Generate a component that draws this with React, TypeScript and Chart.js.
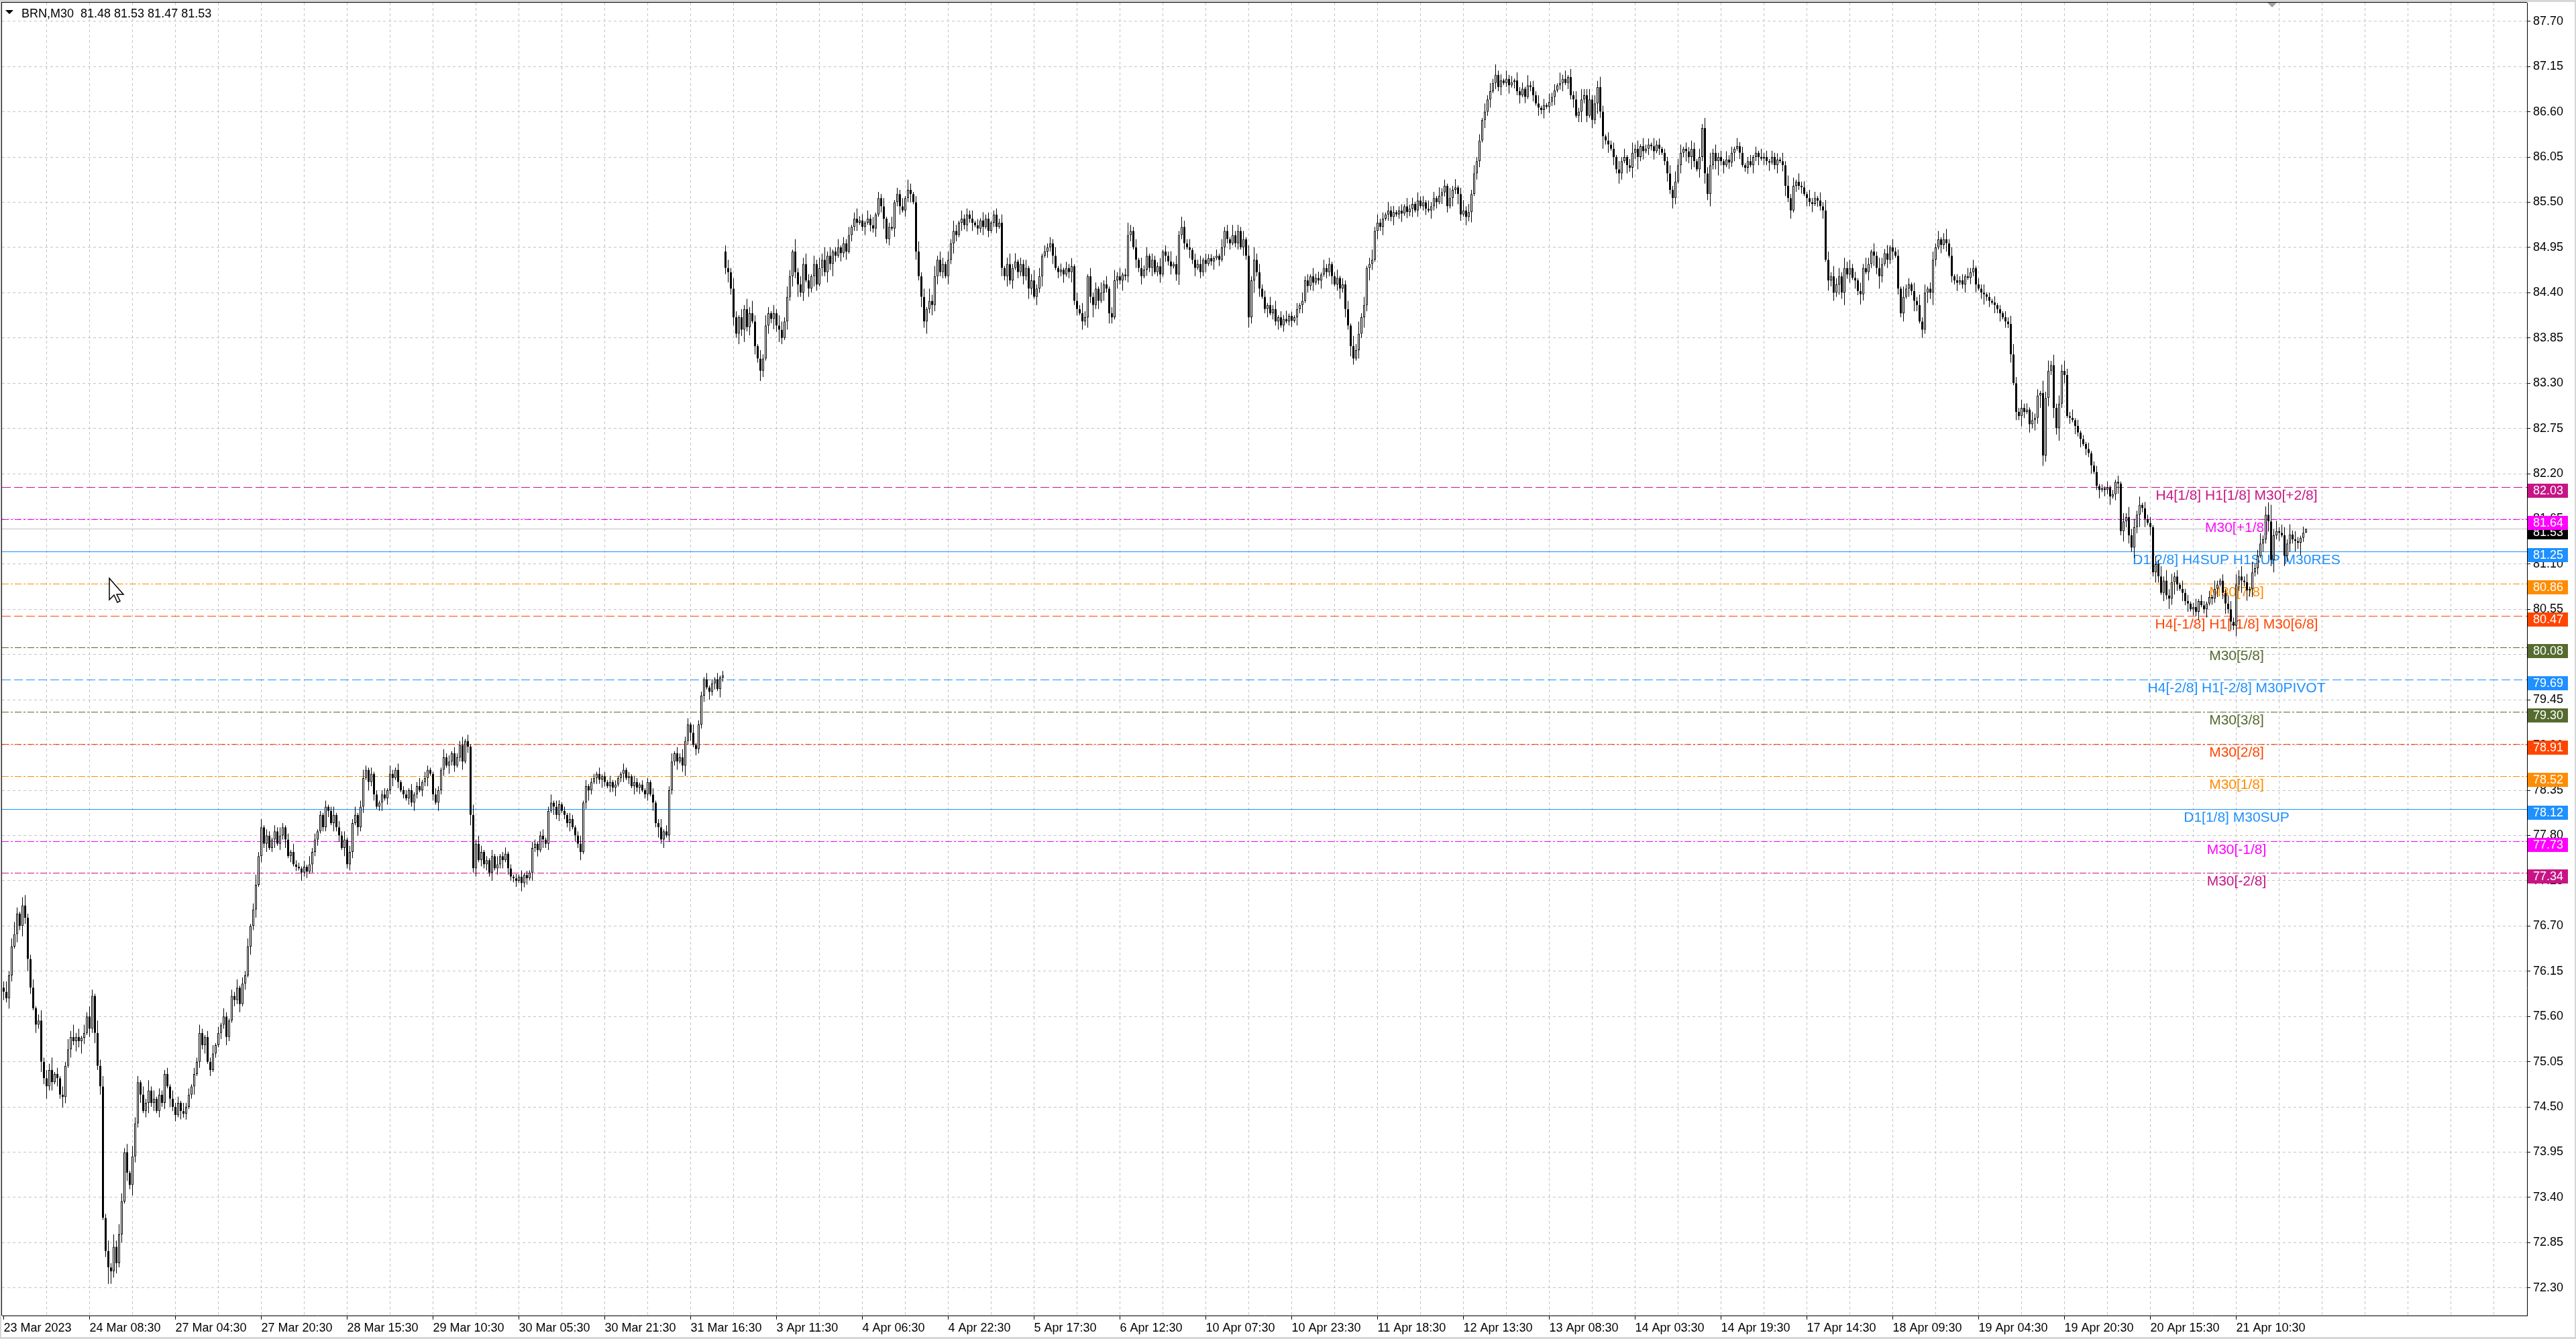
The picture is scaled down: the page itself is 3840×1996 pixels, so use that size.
import React, { useEffect, useRef } from "react";
import { Chart, registerables } from "chart.js";

Chart.register(...registerables);

// ---------- DATA ----------
const closes: number[] = [
  75.90, 75.82, 76.10, 76.45, 76.60, 76.85, 76.70, 76.95, 76.80, 76.30,
  75.95, 75.70, 75.50, 75.55, 75.05, 74.85, 74.75, 74.95, 74.80, 74.90,
  74.85, 74.65, 74.62, 75.00, 75.20, 75.35, 75.30, 75.35, 75.30, 75.34,
  75.40, 75.60, 75.45, 75.85, 75.40, 75.00, 74.75, 73.15, 72.75, 72.55,
  72.50, 72.80, 72.60, 72.95, 73.35, 73.95, 73.70, 73.55, 73.90, 74.30,
  74.80, 74.65, 74.45, 74.55, 74.70, 74.55, 74.60, 74.45, 74.65, 74.55,
  74.90, 74.75, 74.60, 74.50, 74.40, 74.55, 74.45, 74.42, 74.50, 74.65,
  74.75, 74.90, 75.05, 75.40, 75.25, 75.35, 75.05, 74.95, 75.15, 75.25,
  75.40, 75.50, 75.60, 75.35, 75.55, 75.85, 75.80, 75.95, 75.75, 76.00,
  76.10, 76.45, 76.70, 76.90, 77.20, 77.55, 77.90, 77.70, 77.80, 77.65,
  77.75, 77.85, 77.70, 77.80, 77.90, 77.75, 77.55, 77.60, 77.45, 77.42,
  77.40, 77.35, 77.42, 77.36, 77.45, 77.60, 77.75, 77.85, 78.05, 77.90,
  78.15, 78.10, 77.95, 78.05, 77.90, 77.80, 77.65, 77.75, 77.45, 77.60,
  77.95, 78.05, 77.90, 78.15, 78.50, 78.60, 78.45, 78.55, 78.30, 78.15,
  78.20, 78.30, 78.25, 78.35, 78.55, 78.50, 78.60, 78.45, 78.35, 78.30,
  78.25, 78.35, 78.20, 78.30, 78.40, 78.35, 78.45, 78.50, 78.60, 78.55,
  78.30, 78.20, 78.35, 78.60, 78.75, 78.65, 78.70, 78.80, 78.65, 78.75,
  78.90, 78.70, 78.95, 78.88, 78.05, 77.40, 77.70, 77.50, 77.60, 77.45,
  77.50, 77.35, 77.55, 77.40, 77.45, 77.55, 77.50, 77.58, 77.40, 77.30,
  77.28, 77.25, 77.30, 77.22, 77.32, 77.28, 77.35, 77.65, 77.70, 77.62,
  77.80, 77.75, 77.70, 78.10, 78.20, 78.15, 78.05, 78.18, 78.10, 78.05,
  77.95, 78.00, 77.90, 77.80, 77.70, 77.60, 78.20, 78.40, 78.35, 78.45,
  78.50, 78.55, 78.48, 78.52, 78.45, 78.40, 78.45, 78.38, 78.42, 78.50,
  78.55, 78.60, 78.50, 78.52, 78.40, 78.45, 78.38, 78.42, 78.35, 78.30,
  78.45, 78.30, 78.20, 77.95, 77.90, 77.75, 77.85, 77.80, 78.35, 78.70,
  78.80, 78.70, 78.75, 78.65, 78.95, 79.15, 79.05, 78.90, 78.85, 79.15,
  79.50, 79.70, 79.60, 79.55, 79.65, 79.70, 79.58, 79.72, 79.75, 84.70,
  84.65, 84.45, 84.10, 83.90, 84.10, 83.95, 84.20, 83.98, 84.15, 84.05,
  83.75, 83.60, 83.45, 83.60, 84.00, 84.15, 84.08, 84.15, 84.00, 83.95,
  83.85, 84.05, 84.35, 84.60, 84.90, 84.65, 84.50, 84.40, 84.75, 84.55,
  84.45, 84.60, 84.75, 84.50, 84.70, 84.80, 84.65, 84.85, 84.75, 84.90,
  84.85, 84.95, 84.88, 85.00, 84.90, 85.10, 85.20, 85.30, 85.25, 85.28,
  85.20, 85.25, 85.30, 85.22, 85.18, 85.35, 85.55, 85.45, 85.30, 85.05,
  85.20, 85.18, 85.50, 85.60, 85.45, 85.40, 85.55, 85.65, 85.60, 85.50,
  84.90, 84.60, 84.35, 84.05, 84.20, 84.30, 84.25, 84.60, 84.80, 84.65,
  84.75, 84.60, 84.80, 85.00, 85.15, 85.10, 85.25, 85.30, 85.22, 85.35,
  85.30, 85.25, 85.22, 85.18, 85.28, 85.20, 85.30, 85.15, 85.25, 85.35,
  85.20, 85.25, 84.70, 84.60, 84.75, 84.55, 84.70, 84.78, 84.65, 84.75,
  84.60, 84.70, 84.45, 84.55, 84.35, 84.45, 84.60, 84.85, 84.90, 84.95,
  85.00, 84.85, 84.70, 84.65, 84.68, 84.62, 84.70, 84.65, 84.72, 84.30,
  84.20, 84.15, 84.05, 84.10, 84.60, 84.35, 84.25, 84.45, 84.30, 84.40,
  84.50, 84.45, 84.15, 84.10, 84.55, 84.60, 84.55, 84.62, 84.60, 85.10,
  85.15, 84.95, 84.80, 84.70, 84.60, 84.68, 84.85, 84.70, 84.80, 84.65,
  84.72, 84.62, 84.90, 84.85, 84.78, 84.72, 84.75, 84.62, 85.10, 85.20,
  85.00, 84.95, 84.92, 84.80, 84.70, 84.75, 84.65, 84.80, 84.75, 84.82,
  84.78, 84.82, 84.85, 84.80, 84.95, 85.15, 85.05, 85.00, 85.10, 85.00,
  85.15, 84.95, 85.05, 84.85, 84.10, 84.55, 84.80, 84.65, 84.45, 84.35,
  84.20, 84.25, 84.15, 84.20, 84.05, 84.10, 84.00, 84.08, 84.05, 84.12,
  84.06, 84.10, 84.20, 84.25, 84.30, 84.55, 84.48, 84.60, 84.52, 84.58,
  84.55, 84.62, 84.70, 84.65, 84.75, 84.60, 84.50, 84.58, 84.45, 84.50,
  84.20, 84.00, 83.75, 83.60, 83.70, 83.90, 84.10, 84.25, 84.70, 84.75,
  84.80, 85.15, 85.25, 85.20, 85.30, 85.35, 85.40, 85.32, 85.38, 85.35,
  85.40, 85.36, 85.45, 85.38, 85.42, 85.48, 85.40, 85.52, 85.45, 85.50,
  85.42, 85.40, 85.45, 85.55, 85.50, 85.58, 85.62, 85.70, 85.45, 85.55,
  85.65, 85.68, 85.60, 85.35, 85.40, 85.32, 85.38, 85.60, 85.85, 86.00,
  86.25, 86.50, 86.60, 86.75, 86.85, 86.95, 87.05, 86.90, 86.98, 86.95,
  87.00, 86.92, 86.96, 86.98, 86.85, 86.80, 86.88, 86.78, 86.92, 86.90,
  86.80, 86.70, 86.65, 86.62, 86.68, 86.66, 86.72, 86.78, 86.86, 86.92,
  86.95, 87.00, 86.95, 87.02, 86.80, 86.75, 86.55, 86.60, 86.75, 86.80,
  86.55, 86.75, 86.50, 86.70, 86.90, 86.60, 86.30, 86.25, 86.20, 86.15,
  86.05, 85.90, 85.85, 86.00, 86.05, 85.95, 85.92, 86.10, 86.15, 86.05,
  86.18, 86.12, 86.15, 86.20, 86.18, 86.12, 86.20, 86.15, 86.10, 86.00,
  85.85, 85.65, 85.55, 85.75, 85.95, 86.10, 86.15, 86.12, 86.05, 86.15,
  86.00, 85.90, 86.05, 86.40, 85.85, 85.60, 85.95, 86.10, 86.00, 86.05,
  86.00, 85.95, 86.02, 85.98, 86.10, 86.15, 86.18, 86.10, 85.95, 85.92,
  86.00, 85.95, 86.05, 86.10, 86.05, 86.03, 86.05, 86.00, 85.98, 86.05,
  85.95, 86.02, 86.00, 85.95, 85.70, 85.55, 85.40, 85.70, 85.75, 85.70,
  85.68, 85.60, 85.55, 85.50, 85.48, 85.55, 85.52, 85.45, 85.40, 84.80,
  84.55, 84.60, 84.40, 84.50, 84.60, 84.40, 84.70, 84.62, 84.70, 84.58,
  84.55, 84.42, 84.38, 84.70, 84.65, 84.75, 84.90, 84.85, 84.70, 84.60,
  84.75, 84.88, 84.80, 84.95, 84.90, 84.85, 84.45, 84.15, 84.35, 84.45,
  84.50, 84.42, 84.30, 84.25, 84.05, 83.95, 84.40, 84.45, 84.40, 84.80,
  84.95, 85.05, 84.98, 85.05, 85.00, 84.85, 84.60, 84.55, 84.52, 84.55,
  84.50, 84.60, 84.58, 84.65, 84.70, 84.50, 84.45, 84.40, 84.38, 84.35,
  84.30, 84.28, 84.25, 84.20, 84.15, 84.10, 84.05, 84.02, 83.65, 83.30,
  82.95, 82.90, 83.00, 82.95, 82.98, 82.80, 82.85, 82.88, 83.15, 83.18,
  82.42, 83.12, 83.45, 83.52, 83.00, 82.75, 83.05, 83.45, 83.40, 82.90,
  82.88, 82.85, 82.78, 82.70, 82.62, 82.56, 82.50, 82.45, 82.30, 82.22,
  82.05, 82.00, 82.02, 82.00, 82.03, 81.92, 81.95, 82.10, 82.08, 81.50,
  81.62, 81.67, 81.45, 81.30, 81.55, 81.70, 81.82, 81.78, 81.65, 81.60,
  81.55, 81.00, 81.10, 80.95, 80.75, 80.90, 80.72, 80.68, 80.88, 80.95,
  80.85, 80.80, 80.75, 80.65, 80.62, 80.55, 80.58, 80.52, 80.65, 80.60,
  80.55, 80.62, 80.70, 80.68, 80.80, 80.85, 80.90, 80.75, 80.62, 80.55,
  80.40, 80.35, 80.85, 80.95, 80.90, 80.88, 80.78, 80.80, 81.00, 81.05,
  81.20, 81.35, 81.40, 81.70, 81.62, 81.15, 81.45, 81.50, 81.48, 81.45,
  81.20, 81.35, 81.46, 81.40, 81.38, 81.36, 81.42, 81.48, 81.53,
];
const firstOpen = 75.95;
const gapBar = 269;
const gapOpen = 84.9;

// wick extensions, one digit per bar (x 0.025)
const wickUpDigits = [
  "3524631452", "2413524361", "3142536241", "4253163525", "2635424153", "3142524132", "2314231423", "1324213241",
  "3142132413", "2413524132", "1324213142", "2131423121", "3124132413", "2413421312", "1231421312", "2131241321",
  "1321423132", "2413152431", "2131412312", "1213121321", "2312413212", "1321241312", "2131213121", "1312132121",
  "2131241324", "1324231412", "2131213123", "4253142536", "3142531425", "4253162435", "3142536241", "2413241352",
  "3142413241", "2513241531", "3524163524", "3142531423", "2413142312", "3241352413", "2413524132", "3241313241",
  "4253142315", "2413524136", "3241524132", "2413251425", "3241324132", "2131423152", "3241526342", "3142413241",
  "2131423142", "3142312413", "2415362413", "5242314231", "2314231423", "1423142315", "2413524242", "3142425231",
  "4231423152", "3241314231", "5241424253", "3524353142", "3142413524", "1423142312", "2425341324", "3142536242",
  "3142314231", "2313142313", "2314252414", "2314231425", "4253425342", "3142531425", "3241423152", "3142524134",
  "2413524132", "3142413241", "2131213245", "3242314231", "6352524353", "2413121312", "3121312131", "4253424132",
  "3142525342", "3142312413", "2131421324", "4253524152", "3524683524", "425242130",
].join("");
const wickDownDigits = [
  "4253142536", "3142536241", "4253142536", "3142524138", "6352414253", "2413524132", "3142314231", "2413241312",
  "1324213241", "3142413241", "2413241312", "1423142312", "2314231423", "3142314231", "2413241312", "1324213241",
  "3142314231", "2413524132", "3241324132", "2314231423", "1423142312", "2413241352", "1324213241", "2413142312",
  "3142524132", "2413524132", "2314231423", "5342536241", "4253142536", "3142536241", "4253142536", "3142413241",
  "2413241352", "3142413241", "4253625342", "3142531423", "2413241312", "3142524132", "4253142513", "2413241352",
  "3142536241", "4253142523", "3142413241", "2413241352", "3142413241", "2413142312", "3142536241", "2413241312",
  "3142413241", "2413241352", "4253142536", "3142413241", "2413241312", "3142314231", "4253142513", "3142413241",
  "2413241312", "3142413241", "2413241352", "3142536241", "4253142536", "2413241312", "4253142536", "3142536247",
  "2413241312", "3142413241", "2413524132", "3142413241", "5342536241", "4253142536", "3142413241", "4253142536",
  "3142413241", "2413241352", "3142413241", "4253142536", "5342536241", "3142413241", "2413241352", "5342536241",
  "4253142536", "3142413241", "2413241352", "4253625342", "3142536241", "534253620",
].join("");
const WICK_UNIT = 0.025;

const timeLabels = [
  "23 Mar 2023", "24 Mar 08:30", "27 Mar 04:30", "27 Mar 20:30", "28 Mar 15:30", "29 Mar 10:30",
  "30 Mar 05:30", "30 Mar 21:30", "31 Mar 16:30", "3 Apr 11:30", "4 Apr 06:30", "4 Apr 22:30",
  "5 Apr 17:30", "6 Apr 12:30", "10 Apr 07:30", "10 Apr 23:30", "11 Apr 18:30", "12 Apr 13:30",
  "13 Apr 08:30", "14 Apr 03:30", "14 Apr 19:30", "17 Apr 14:30", "18 Apr 09:30", "19 Apr 04:30",
  "19 Apr 20:30", "20 Apr 15:30", "21 Apr 10:30",
];
const yTicks = [
  72.30, 72.85, 73.40, 73.95, 74.50, 75.05, 75.60, 76.15, 76.70, 77.25, 77.80, 78.35, 78.90, 79.45, 80.00,
  80.55, 81.10, 81.65, 82.20, 82.75, 83.30, 83.85, 84.40, 84.95, 85.50, 86.05, 86.60, 87.15, 87.70,
];

const levelPrices = [82.03, 81.64, 81.25, 80.86, 80.47, 80.08, 79.69, 79.30, 78.91, 78.52, 78.12, 77.73, 77.34];
const levelNames = [
  "H4[1/8] H1[1/8] M30[+2/8]", "M30[+1/8]", "D1[2/8] H4SUP H1SUP M30RES", "M30[7/8]",
  "H4[-1/8] H1[-1/8] M30[6/8]", "M30[5/8]", "H4[-2/8] H1[-2/8] M30PIVOT", "M30[3/8]",
  "M30[2/8]", "M30[1/8]", "D1[1/8] M30SUP", "M30[-1/8]", "M30[-2/8]",
];
const levelColors = [
  "#C71585", "#FF00FF", "#1E90FF", "#FF8C00", "#FF4500", "#556B2F", "#1E90FF",
  "#556B2F", "#FF4500", "#FF8C00", "#1E90FF", "#FF00FF", "#C71585",
];
const levelStyles = [
  "dash", "dashdot", "solid", "dashdot", "dash", "dashdot", "dash",
  "dashdot", "dashdot", "dashdot", "solid", "dashdot", "dashdot",
];
const bidPrice = 81.53;
const headerSymbol = "BRN,M30";
const headerOHLC = [81.48, 81.53, 81.47, 81.53];

// ---------- LAYOUT ----------
const W = 3840;
const H = 1996;
const X_MIN = -0.625;
const X_MAX = 940.375;
const Y_MAX = 87.926;
const Y_MIN = 71.964;
const GRID_STEP = 16;
const LABEL_STEP = 32;
const LABEL_X = 3334;
const FONT = "'Liberation Sans', Arial, sans-serif";
const GRID_COLOR = "#c4c4c4";

export default function App() {
  const ref = useRef<HTMLCanvasElement>(null);

  useEffect(() => {
    const canvas = ref.current as HTMLCanvasElement;
    const opens = closes.map((c, i) => (i === 0 ? firstOpen : i === gapBar ? gapOpen : closes[i - 1]));
    const highs = closes.map((c, i) => Math.max(opens[i], c) + (Number(wickUpDigits[i]) || 0) * WICK_UNIT);
    const lows = closes.map((c, i) => Math.min(opens[i], c) - (Number(wickDownDigits[i]) || 0) * WICK_UNIT);
    const bodyData = closes.map((c, i) => ({ x: i, y: [opens[i], c] }));
    const wickData = closes.map((c, i) => ({ x: i, y: [lows[i], highs[i]] }));
    const bodyColors = closes.map((c, i) => (c >= opens[i] ? "#ffffff" : "#000000"));

    const dashFor = (s: string) => (s === "dash" ? [13, 5] : s === "dashdot" ? [10, 3, 3, 3] : []);

    const levelDatasets: any[] = levelPrices.map((p, k) => ({
      type: "line",
      data: [{ x: X_MIN, y: p }, { x: X_MAX, y: p }],
      borderColor: levelColors[k],
      borderWidth: 1,
      borderDash: dashFor(levelStyles[k]),
      pointRadius: 0,
      fill: false,
      order: 10,
      snapY: true,
    }));
    const bidDataset: any = {
      type: "line",
      data: [{ x: X_MIN, y: bidPrice }, { x: X_MAX, y: bidPrice }],
      borderColor: "#c0c0c0",
      borderWidth: 1,
      pointRadius: 0,
      fill: false,
      order: 9,
      snapY: true,
    };

    const gridValues: number[] = [];
    for (let v = 0; v <= X_MAX; v += GRID_STEP) gridValues.push(v);
    const isLabelTick = (v: number) => v % LABEL_STEP === 0 && v / LABEL_STEP < timeLabels.length;

    const mt4Plugin: any = {
      id: "mt4",
      beforeDraw(chart: any) {
        const ctx = chart.ctx;
        ctx.save();
        ctx.fillStyle = "#ffffff";
        ctx.fillRect(0, 0, W, H);
        ctx.restore();
      },
      beforeDatasetsDraw(chart: any) {
        const ctx = chart.ctx;
        const ys = chart.scales.y;
        ctx.save();
        ctx.font = `21px ${FONT}`;
        ctx.textAlign = "center";
        ctx.textBaseline = "alphabetic";
        levelPrices.forEach((p, k) => {
          const y = Math.floor(ys.getPixelForValue(p));
          ctx.fillStyle = levelColors[k];
          ctx.fillText(levelNames[k], LABEL_X, y + 19);
        });
        ctx.restore();
      },
      beforeDatasetDraw(chart: any, args: any) {
        const ds: any = chart.data.datasets[args.index];
        if (ds.snapY) {
          const y = chart.scales.y.getPixelForValue(ds.data[0].y);
          const off = Math.floor(y) + 0.5 - y;
          chart.ctx.save();
          chart.ctx.translate(0, off);
        }
      },
      afterDatasetDraw(chart: any, args: any) {
        const ds: any = chart.data.datasets[args.index];
        if (ds.snapY) chart.ctx.restore();
      },
      afterDraw(chart: any) {
        const ctx = chart.ctx;
        const ys = chart.scales.y;
        const area = chart.chartArea;
        ctx.save();
        // outer window frame
        ctx.fillStyle = "#d6d6d6";
        ctx.fillRect(0, 0, W, 3);
        ctx.fillRect(0, 0, 2, H);
        ctx.fillRect(0, H - 3, W, 3);
        ctx.fillRect(W - 2, 0, 2, H);
        // plot frame (left / top)
        ctx.fillStyle = "#000000";
        ctx.fillRect(area.left - 1, area.top - 1, area.right - area.left + 1, 1);
        ctx.fillRect(area.left - 1, area.top - 1, 1, area.bottom - area.top + 1);

        // price boxes on the right axis
        const boxLeft = area.right + 1;
        const drawBox = (p: number, color: string) => {
          const y = Math.floor(ys.getPixelForValue(p));
          ctx.fillStyle = color;
          ctx.fillRect(boxLeft, y - 5, 60, 21);
          ctx.fillStyle = "#ffffff";
          ctx.font = `18px ${FONT}`;
          ctx.textAlign = "left";
          ctx.textBaseline = "middle";
          ctx.fillText(p.toFixed(2), area.right + 9, y + 6);
        };
        drawBox(bidPrice, "#000000");
        levelPrices.forEach((p, k) => drawBox(p, levelColors[k]));

        // header
        ctx.fillStyle = "#000000";
        ctx.beginPath();
        ctx.moveTo(8, 15);
        ctx.lineTo(20, 15);
        ctx.lineTo(14, 21);
        ctx.closePath();
        ctx.fill();
        ctx.font = `18px ${FONT}`;
        ctx.textAlign = "left";
        ctx.textBaseline = "alphabetic";
        ctx.fillText(`${headerSymbol}  ${headerOHLC.map((v) => v.toFixed(2)).join(" ")}`, 32, 26);

        // chart shift marker
        ctx.fillStyle = "#a0a0a0";
        ctx.beginPath();
        ctx.moveTo(3380, area.top);
        ctx.lineTo(3394, area.top);
        ctx.lineTo(3387, area.top + 7);
        ctx.closePath();
        ctx.fill();

        // mouse cursor
        ctx.translate(163, 862);
        ctx.beginPath();
        ctx.moveTo(0, 0);
        ctx.lineTo(0, 32);
        ctx.lineTo(7, 25);
        ctx.lineTo(12, 36);
        ctx.lineTo(16, 34);
        ctx.lineTo(11, 24);
        ctx.lineTo(21, 24);
        ctx.closePath();
        ctx.fillStyle = "#ffffff";
        ctx.fill();
        ctx.strokeStyle = "#000000";
        ctx.lineWidth = 1.5;
        ctx.stroke();
        ctx.restore();
      },
    };

    const chart = new Chart(canvas, {
      type: "bar",
      data: {
        datasets: [
          ...levelDatasets,
          bidDataset,
          {
            type: "bar",
            data: wickData,
            backgroundColor: "#000000",
            borderWidth: 0,
            barThickness: 1,
            grouped: false,
            order: 2,
            inflateAmount: 0,
          },
          {
            type: "bar",
            data: bodyData,
            backgroundColor: bodyColors,
            borderColor: "#000000",
            borderWidth: 1,
            borderSkipped: false,
            barThickness: 3,
            minBarLength: 1,
            grouped: false,
            order: 1,
            inflateAmount: 0,
          },
        ] as any,
      },
      options: {
        animation: false,
        responsive: false,
        devicePixelRatio: 1,
        events: [],
        layout: { padding: { top: 4, left: 3, right: 0, bottom: 0 } },
        plugins: { legend: { display: false }, tooltip: { enabled: false }, title: { display: false } },
        scales: {
          x: {
            type: "linear",
            min: X_MIN,
            max: X_MAX,
            offset: false,
            grid: {
              offset: false,
              color: (c: any) => (c.tick && c.tick.value === 0 ? "rgba(0,0,0,0)" : GRID_COLOR),
              lineWidth: 1,
              drawTicks: true,
              tickLength: 6,
              tickColor: (c: any) => (c.tick && isLabelTick(c.tick.value) ? "#000000" : "rgba(0,0,0,0)"),
            },
            border: { display: true, color: "#000000", width: 1, dash: [4, 4] },
            ticks: {
              autoSkip: false,
              maxRotation: 0,
              minRotation: 0,
              align: "start",
              padding: 2,
              color: "#000000",
              font: { family: FONT, size: 18 },
              callback: (v: any) => (isLabelTick(Number(v)) ? timeLabels[Number(v) / LABEL_STEP] : ""),
            },
            afterBuildTicks: (s: any) => {
              s.ticks = gridValues.map((v) => ({ value: v }));
            },
            afterFit: (s: any) => {
              s.height = 35;
              s.paddingLeft = 0;
              s.paddingRight = 0;
              s.paddingTop = 0;
              s.paddingBottom = 0;
            },
          } as any,
          y: {
            type: "linear",
            position: "right",
            min: Y_MIN,
            max: Y_MAX,
            grid: { color: GRID_COLOR, lineWidth: 1, tickLength: 5, tickColor: "#000000" },
            border: { display: true, color: "#000000", width: 1, dash: [4, 4] },
            ticks: {
              autoSkip: false,
              padding: 4,
              color: "#000000",
              crossAlign: "near",
              font: { family: FONT, size: 18 },
              callback: (v: any) => Number(v).toFixed(2),
            },
            afterBuildTicks: (s: any) => {
              s.ticks = yTicks.map((v) => ({ value: v }));
            },
            afterFit: (s: any) => {
              s.width = 73;
              s.paddingLeft = 0;
              s.paddingRight = 0;
              s.paddingTop = 0;
              s.paddingBottom = 0;
            },
          } as any,
        },
      } as any,
      plugins: [mt4Plugin],
    });

    return () => chart.destroy();
  }, []);

  return (
    <div style={{ position: "absolute", left: 0, top: 0, width: W, height: H, background: "#ffffff" }}>
      <canvas ref={ref} width={W} height={H} style={{ display: "block", width: W, height: H }} />
    </div>
  );
}
